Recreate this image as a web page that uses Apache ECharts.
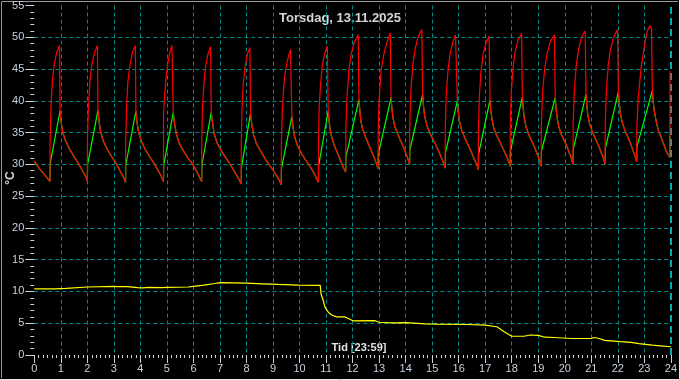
<!DOCTYPE html>
<html><head><meta charset="utf-8">
<script src="https://cdn.jsdelivr.net/npm/echarts@6/dist/echarts.min.js"></script>
<style>html,body{margin:0;padding:0;background:#000;}#c{width:680px;height:380px;}</style>
</head><body><div id="c"></div>
<script>
const titleText = 'Torsdag, 13.11.2025';
const xName = 'Tid [23:59]';
const yName = '°C';
const xTicks = [0,24,1];
const yTicks = [0,55,5];

// shared decay segments (flow and return coincide): [hour, °C]
const decayPts = [
[0,30.5],[0.1,29.9],[0.2,29.3],[0.3,28.8],[0.4,28.3],[0.5,27.8],[0.59,27.3],
[0.97,38.4],[1.01,36.7],[1.07,35.1],[1.18,33.7],[1.33,32.4],[1.49,31.3],[1.64,30.3],[1.79,29.2],[1.92,28.2],[2.00,27.4],
[2.40,38.5],[2.44,36.8],[2.50,35.1],[2.61,33.6],[2.76,32.3],[2.92,31.2],[3.08,30.2],[3.23,29.0],[3.36,28.0],[3.44,27.2],
[3.83,38.4],[3.87,36.7],[3.93,35.1],[4.04,33.6],[4.19,32.3],[4.35,31.2],[4.51,30.2],[4.66,29.1],[4.79,28.1],[4.87,27.3],
[5.24,38.2],[5.28,36.6],[5.35,34.9],[5.45,33.5],[5.61,32.2],[5.78,31.1],[5.94,30.2],[6.10,29.1],[6.22,28.1],[6.31,27.3],
[6.67,38.2],[6.72,36.5],[6.78,34.8],[6.90,33.3],[7.07,32.0],[7.24,30.9],[7.40,29.9],[7.57,28.7],[7.71,27.7],[7.80,26.9],
[8.15,38.0],[8.20,36.3],[8.27,34.6],[8.38,33.2],[8.56,31.9],[8.73,30.7],[8.90,29.7],[9.08,28.6],[9.22,27.6],[9.31,26.8],
[9.71,37.5],[9.75,36.0],[9.81,34.4],[9.91,33.1],[10.06,31.8],[10.21,30.8],[10.36,29.9],[10.51,28.9],[10.63,27.9],[10.71,27.2],
[11.08,38.4],[11.11,37.0],[11.15,35.5],[11.21,34.3],[11.31,33.0],[11.41,32.0],[11.51,31.0],[11.61,29.9],[11.69,29.2],[11.74,28.8],
[12.24,40.2],[12.27,38.6],[12.31,36.9],[12.38,35.5],[12.49,34.3],[12.60,33.2],[12.71,32.1],[12.82,31.0],[12.90,30.1],[12.96,29.3],
[13.45,40.5],[13.48,38.9],[13.52,37.4],[13.59,36.0],[13.70,34.8],[13.80,33.8],[13.91,32.8],[14.01,31.7],[14.09,30.8],[14.15,30.0],
[14.64,41.0],[14.67,39.3],[14.72,37.5],[14.81,36.0],[14.94,34.7],[15.07,33.6],[15.19,32.6],[15.32,31.3],[15.42,30.3],[15.49,29.4],
[15.95,40.0],[15.98,38.4],[16.03,36.8],[16.11,35.4],[16.23,34.2],[16.35,33.1],[16.46,32.1],[16.58,30.9],[16.68,30.0],[16.74,29.2],
[17.18,40.1],[17.21,38.5],[17.26,37.0],[17.33,35.6],[17.45,34.4],[17.56,33.5],[17.67,32.5],[17.79,31.4],[17.88,30.5],[17.94,29.7],
[18.40,40.6],[18.43,39.0],[18.47,37.3],[18.54,35.9],[18.65,34.6],[18.76,33.6],[18.86,32.7],[18.97,31.5],[19.05,30.6],[19.11,29.7],
[19.64,40.5],[19.67,38.9],[19.71,37.4],[19.77,36.0],[19.87,34.7],[19.98,33.8],[20.08,32.8],[20.18,31.7],[20.26,30.8],[20.31,30.0],
[20.80,41.0],[20.83,39.4],[20.87,37.7],[20.94,36.3],[21.05,35.0],[21.16,34.0],[21.27,33.0],[21.38,31.8],[21.46,30.9],[21.52,30.05],
[22.02,41.4],[22.05,39.75],[22.09,38.1],[22.16,36.7],[22.26,35.4],[22.37,34.4],[22.47,33.4],[22.57,32.2],[22.65,31.3],[22.71,30.4],
[23.30,41.6],[23.33,40.0],[23.37,38.5],[23.43,37.1],[23.53,35.3],[23.63,34.3],[23.73,33.2],[23.83,32.0],[23.91,31.5],[23.96,31.1]
];

// flow (red) heating-up segments
const redRise = [
[0.594,33.2],[0.63,39.1],[0.68,43.1],[0.75,45.7],[0.84,47.6],[0.95,48.7],
[2.004,33.8],[2.04,39.1],[2.10,43.2],[2.17,45.7],[2.27,47.6],[2.38,48.7],
[3.444,33.6],[3.48,39.0],[3.53,43.1],[3.61,45.7],[3.70,47.6],[3.81,48.7],
[4.874,38.0],[4.91,40.8],[4.96,43.3],[5.03,45.8],[5.11,47.6],[5.19,48.7],[5.23,48.6],
[6.314,33.7],[6.34,39.0],[6.40,43.0],[6.46,45.5],[6.55,47.4],[6.65,48.5],
[7.804,33.3],[7.83,38.7],[7.88,42.8],[7.95,45.4],[8.03,47.3],[8.13,48.4],
[9.314,33.2],[9.35,38.5],[9.41,42.6],[9.48,45.1],[9.58,47.0],[9.66,48.1],[9.69,48.0],
[10.714,33.6],[10.74,39.0],[10.80,43.0],[10.86,45.6],[10.95,47.5],[11.05,48.6],
[11.745,35.3],[11.79,40.7],[11.86,44.8],[11.95,47.4],[12.07,49.3],[12.21,50.4],
[12.965,35.7],[13.00,40.2],[13.08,45.0],[13.20,47.8],[13.33,49.6],[13.42,50.7],
[14.155,36.4],[14.20,41.7],[14.27,45.7],[14.36,48.2],[14.47,50.1],[14.61,51.2],
[15.495,35.7],[15.53,41.0],[15.60,44.9],[15.68,47.5],[15.79,49.4],[15.88,50.4],[15.92,50.2],
[16.745,35.5],[16.78,40.8],[16.84,44.7],[16.92,47.3],[17.03,49.2],[17.15,50.2],
[17.945,36.0],[17.98,41.2],[18.05,45.2],[18.13,47.7],[18.24,49.6],[18.37,50.6],
[19.115,35.9],[19.16,41.1],[19.24,45.0],[19.34,47.5],[19.46,49.4],[19.61,50.4],
[20.315,36.3],[20.36,41.6],[20.43,45.5],[20.52,48.1],[20.63,50.0],[20.77,51.0],
[21.525,36.4],[21.57,41.7],[21.64,45.7],[21.73,48.2],[21.85,50.1],[21.99,51.2],
[22.715,35.5],[22.77,40.5],[22.88,45.3],[23.00,48.6],[23.10,50.9],[23.21,51.8],[23.27,51.3],
[23.965,44.7]
];

// return (green) heating-up segments
const greenRise = [
[0.60,30.1],[2.01,30.0],[3.45,29.9],[4.88,29.9],[6.32,29.9],[7.81,29.5],[9.32,29.4],[10.72,29.8],
[11.75,31.2],[12.97,31.6],[14.16,32.3],[15.50,31.8],[16.75,31.6],[17.95,32.1],[19.12,32.1],[20.32,32.4],[21.53,32.5],[22.72,32.8],
[23.965,34.5]
];

// outdoor (yellow)
const outdoor = [
[0,10.4],[0.78,10.4],[0.8,10.5],[1.2,10.5],[1.22,10.7],[2.0,10.7],[2.05,10.8],[3.0,10.8],[3.1,10.75],[3.5,10.75],[3.9,10.6],[4.1,10.55],[4.3,10.65],[4.8,10.6],[5.0,10.65],[5.8,10.7],[6.0,10.8],[6.4,11.0],[6.8,11.25],[7.0,11.4],[7.5,11.35],[8.0,11.3],[8.6,11.2],[9.2,11.1],[9.96,11.0],[10.78,10.95],[10.81,9.6],[10.9,8.5],[10.96,7.5],[11.09,6.7],[11.21,6.3],[11.4,6.0],[11.7,6.0],[11.84,5.74],[12.03,5.36],[12.85,5.4],[13.0,5.15],[13.5,5.05],[14.0,5.1],[14.75,4.9],[15.2,4.85],[16.3,4.8],[16.35,4.7],[17.0,4.7],[17.07,4.4],[17.44,4.45],[17.7,3.7],[18.0,2.95],[18.46,2.95],[18.7,3.15],[19.0,3.1],[19.25,2.8],[19.6,2.75],[20.25,2.6],[21.0,2.6],[21.1,2.75],[21.3,2.6],[21.5,2.3],[22.1,2.1],[22.5,2.0],[22.8,1.8],[23.3,1.55],[23.6,1.45],[24.0,1.3]
];

const byX = (a,b)=>a[0]-b[0];
const redData = decayPts.concat(redRise).sort(byX);
const greenData = decayPts.concat(greenRise).sort(byX);

const labelColor = '#c4d2e0';
const tickColor = '#d0d0d0';
const gridColor = '#008a8a';
const FONT = '"Liberation Sans", Arial, sans-serif';

const chart = echarts.init(document.getElementById('c'), null, {renderer:'canvas'});
chart.setOption({
  animation:false,
  backgroundColor:'#000',
  grid:{left:34.3, right:5.7, top:4.3, bottom:25},
  xAxis:{
    type:'value', min:xTicks[0], max:xTicks[1], interval:xTicks[2],
    axisLine:{show:false},
    axisTick:{show:true, length:8, lineStyle:{color:tickColor}},
    minorTick:{show:true, splitNumber:6, length:3, lineStyle:{color:tickColor}},
    axisLabel:{color:labelColor, fontSize:11, fontFamily:FONT, margin:8, showMinLabel:true, showMaxLabel:true},
    splitLine:{show:true, showMinLine:false, showMaxLine:false, lineStyle:{color:gridColor, type:[4,3], width:1}}
  },
  yAxis:{
    type:'value', min:yTicks[0], max:yTicks[1], interval:yTicks[2],
    axisLine:{show:false},
    axisTick:{show:true, length:9, lineStyle:{color:tickColor}},
    minorTick:{show:true, splitNumber:5, length:4, lineStyle:{color:tickColor}},
    axisLabel:{color:labelColor, fontSize:11, fontFamily:FONT, margin:10},
    splitLine:{show:true, showMinLine:false, showMaxLine:false, lineStyle:{color:gridColor, type:[4,3], width:1}}
  },
  series:[
    {type:'line', data:outdoor, showSymbol:false, lineStyle:{color:'#ffff00', width:1.2}, z:3},
    {type:'line', data:greenData, showSymbol:false, lineStyle:{color:'#00ff00', width:1.2}, z:4},
    {type:'line', data:redData, showSymbol:false, lineStyle:{color:'#ff0000', width:1.2}, z:5,
      markLine:{silent:true, symbol:'none', label:{show:false},
        lineStyle:{color:'#00e8e8', type:[7,4], width:1.5}, data:[{xAxis:24}]}}
  ],
  graphic:[
    {type:'text', x:340, y:18, style:{text:titleText, fill:'#d4d4d4', font:'bold 13px '+FONT, textAlign:'center', textVerticalAlign:'middle'}},
    {type:'text', x:359, y:348, style:{text:xName, fill:'#e4e4e4', font:'bold 11px '+FONT, textAlign:'center', textVerticalAlign:'middle'}},
    {type:'text', x:11, y:178, rotation:Math.PI/2, style:{text:yName, fill:'#d4d4d4', font:'bold 12px '+FONT, textAlign:'center', textVerticalAlign:'middle'}},
    {type:'polyline', shape:{points:[[1.5,378],[1.5,1.5],[678,1.5]]}, style:{stroke:'#9a9a9a', lineWidth:1, fill:null}},
    {type:'polyline', shape:{points:[[0,379.5],[679.5,379.5],[679.5,0]]}, style:{stroke:'#e8e8e8', lineWidth:1, fill:null}}
  ]
});
</script></body></html>
